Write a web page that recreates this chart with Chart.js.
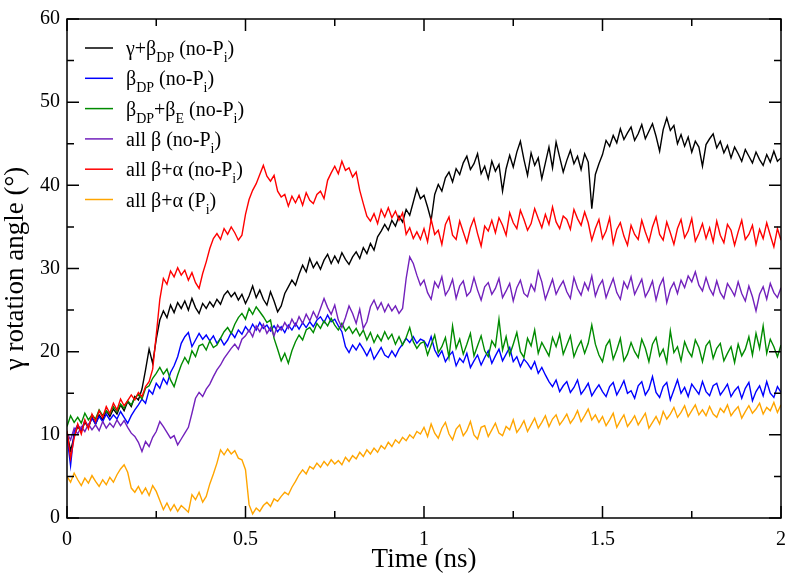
<!DOCTYPE html>
<html>
<head>
<meta charset="utf-8">
<script src="https://cdn.jsdelivr.net/npm/chart.js@4.4.1/dist/chart.umd.min.js"></script>
<style>
html, body { margin: 0; padding: 0; background: #fff; }
#wrap { width: 796px; height: 578px; }
</style>
</head>
<body>
<div id="wrap"><canvas id="myChart"></canvas></div>
<script>
// Time axis (ns), one sample every 0.01 ns
var timeNs = [
  0,0.01,0.02,0.03,0.04,0.05,0.06,0.07,0.08,0.09,0.1,0.11,0.12,0.13,0.14,0.15,0.16,0.17,0.18,0.19,
  0.2,0.21,0.22,0.23,0.24,0.25,0.26,0.27,0.28,0.29,0.3,0.31,0.32,0.33,0.34,0.35,0.36,0.37,0.38,0.39,
  0.4,0.41,0.42,0.43,0.44,0.45,0.46,0.47,0.48,0.49,0.5,0.51,0.52,0.53,0.54,0.55,0.56,0.57,0.58,0.59,
  0.6,0.61,0.62,0.63,0.64,0.65,0.66,0.67,0.68,0.69,0.7,0.71,0.72,0.73,0.74,0.75,0.76,0.77,0.78,0.79,
  0.8,0.81,0.82,0.83,0.84,0.85,0.86,0.87,0.88,0.89,0.9,0.91,0.92,0.93,0.94,0.95,0.96,0.97,0.98,0.99,
  1,1.01,1.02,1.03,1.04,1.05,1.06,1.07,1.08,1.09,1.1,1.11,1.12,1.13,1.14,1.15,1.16,1.17,1.18,1.19,
  1.2,1.21,1.22,1.23,1.24,1.25,1.26,1.27,1.28,1.29,1.3,1.31,1.32,1.33,1.34,1.35,1.36,1.37,1.38,1.39,
  1.4,1.41,1.42,1.43,1.44,1.45,1.46,1.47,1.48,1.49,1.5,1.51,1.52,1.53,1.54,1.55,1.56,1.57,1.58,1.59,
  1.6,1.61,1.62,1.63,1.64,1.65,1.66,1.67,1.68,1.69,1.7,1.71,1.72,1.73,1.74,1.75,1.76,1.77,1.78,1.79,
  1.8,1.81,1.82,1.83,1.84,1.85,1.86,1.87,1.88,1.89,1.9,1.91,1.92,1.93,1.94,1.95,1.96,1.97,1.98,1.99,
  2
];

// γ+βDP (no-Pi)
var gammaBetaDP = [
  10.2,8.1,9.8,11.0,10.4,11.5,10.9,12.1,11.3,12.4,11.8,12.9,12.2,13.1,12.5,13.6,12.9,14.0,13.4,14.6,
  14.2,15.5,17.8,20.3,18.6,21.5,23.8,24.9,24.1,25.6,24.7,25.9,25.2,26.1,25.0,26.4,25.3,24.6,25.8,25.2,
  26.0,25.4,26.3,25.7,26.8,27.3,26.6,27.1,26.2,26.9,25.8,26.7,27.9,26.5,27.4,26.3,25.6,27.2,26.1,24.8,
  25.5,27.0,27.8,28.6,28.0,29.3,30.4,29.6,31.2,30.1,30.8,29.9,31.0,31.7,30.6,31.5,30.7,31.9,31.1,30.5,
  31.4,32.0,31.2,32.5,31.8,33.0,32.2,33.8,34.5,35.3,34.6,35.8,35.1,36.3,35.6,37.1,36.4,38.0,39.6,38.4,
  38.8,37.4,35.8,38.9,40.1,39.3,40.9,41.6,40.4,42.0,41.3,42.7,43.5,41.9,42.6,43.8,41.4,42.3,40.8,42.9,
  41.7,42.5,39.3,42.0,43.6,42.2,44.0,45.3,43.1,41.2,43.9,42.4,43.3,40.8,42.7,44.6,42.1,45.2,43.4,41.6,
  43.0,44.2,42.6,43.5,41.9,43.8,42.8,37.2,41.3,42.6,43.7,45.4,44.7,46.0,45.1,46.8,45.5,46.3,47.0,45.4,
  46.2,47.3,45.6,46.5,47.4,45.9,44.1,46.7,48.1,46.6,47.2,45.0,46.1,44.7,45.8,44.0,45.3,44.6,42.3,44.9,
  45.6,46.2,44.5,45.3,43.9,44.8,43.3,44.6,43.8,42.9,44.3,43.5,42.7,44.0,43.1,42.4,43.7,42.8,44.1,42.9,
  43.3
];

// βDP (no-Pi)
var betaDP = [
  9.8,6.3,10.4,11.2,10.6,11.7,11.0,12.0,11.3,12.2,11.6,12.5,11.8,12.4,11.9,12.8,12.1,11.4,12.3,13.0,
  13.6,14.3,13.8,15.4,14.9,16.2,15.6,16.8,16.1,17.5,18.3,19.4,21.0,21.8,22.3,20.6,21.4,22.2,21.5,22.0,
  21.3,21.9,21.0,21.6,20.8,21.4,22.3,21.7,22.6,22.1,23.0,22.4,23.3,22.6,23.5,22.8,23.2,22.5,23.1,22.4,
  23.0,22.3,23.2,22.6,23.4,22.7,23.5,22.9,23.6,23.0,23.8,24.2,23.5,24.4,23.6,23.9,23.1,22.4,20.6,19.9,
  20.8,20.2,21.0,20.3,19.5,20.4,19.1,19.8,20.5,19.6,19.3,20.1,19.4,20.3,20.9,21.6,21.1,21.8,21.0,21.5,
  21.3,20.6,21.8,20.2,19.4,20.1,18.8,19.5,20.0,18.3,19.2,18.7,19.8,18.1,18.9,19.6,18.4,19.3,20.1,18.6,
  19.5,20.3,18.9,19.7,20.5,18.8,19.4,18.2,19.1,18.6,17.9,18.8,17.4,18.1,17.2,16.4,15.8,16.6,15.2,15.9,
  16.4,15.1,15.7,16.6,14.9,15.5,16.2,14.7,15.4,16.0,15.2,14.6,15.8,16.3,14.8,15.6,16.5,15.0,15.3,14.4,
  15.9,16.4,14.8,15.5,17.0,15.1,14.5,15.8,16.3,14.2,15.4,16.6,15.0,15.7,14.6,16.1,15.5,14.9,16.4,15.2,
  14.7,15.9,16.2,14.8,15.4,16.1,14.6,15.3,15.8,14.4,15.6,16.3,14.1,15.2,15.9,14.7,16.4,15.0,14.5,15.8,
  15.1
];

// βDP+βE (no-Pi)
var betaDPbetaE = [
  11.0,12.3,11.5,12.1,11.4,12.6,11.8,12.4,11.9,13.0,12.3,12.9,12.5,13.4,12.8,13.7,13.2,14.1,13.6,14.4,
  14.9,14.3,15.6,15.9,16.8,17.4,18.1,17.3,17.9,16.6,15.8,17.2,18.4,19.3,18.6,20.1,19.4,20.7,20.9,20.2,
  21.3,20.5,20.8,21.6,22.4,22.9,22.2,23.3,24.1,24.6,23.9,25.2,24.5,25.4,24.8,24.2,23.5,23.8,21.6,20.3,
  18.9,19.8,18.6,20.1,21.2,22.0,21.4,22.6,22.9,22.3,23.4,22.8,23.7,23.1,24.0,23.2,22.6,23.4,22.5,23.0,
  22.2,22.8,21.9,22.6,21.4,22.3,21.1,22.0,21.3,22.4,21.5,22.1,20.9,21.8,20.8,21.7,22.9,21.2,20.4,21.0,
  21.2,19.6,20.8,22.0,19.9,20.6,21.7,19.3,23.1,20.4,21.5,19.7,20.9,22.2,19.5,20.7,21.9,20.1,19.4,21.3,
  20.6,23.9,20.2,21.8,19.6,20.9,22.3,20.0,19.3,21.6,20.7,22.6,19.8,21.1,20.3,19.5,21.7,20.6,22.1,19.7,
  20.8,21.9,19.4,20.5,21.3,19.8,21.0,23.2,20.9,19.6,18.8,20.7,21.4,19.1,20.2,21.6,18.9,19.7,21.1,20.0,
  19.3,21.5,20.4,18.8,20.9,21.7,19.5,20.3,18.7,22.5,19.9,20.6,18.9,21.2,20.1,19.4,21.4,20.5,18.8,20.7,
  21.3,19.2,20.4,21.0,18.9,19.8,20.6,18.7,20.9,19.5,20.3,21.8,19.6,22.2,20.4,23.1,19.8,21.5,20.6,19.4,
  20.8
];

// all β (no-Pi)
var allBeta = [
  10.2,9.4,10.8,10.1,11.0,10.4,11.3,10.6,11.2,10.5,11.6,10.8,11.4,10.9,11.8,11.1,11.7,10.9,10.2,9.8,
  9.1,8.0,9.2,8.6,9.7,10.4,11.6,11.0,10.3,9.6,9.9,8.8,9.5,10.2,10.9,12.6,14.4,15.1,14.6,15.5,
  16.1,17.0,17.8,18.4,19.2,19.8,20.4,20.9,20.3,21.5,21.9,22.6,21.8,23.1,22.4,23.3,22.2,22.9,21.9,23.2,
  22.6,23.5,22.8,23.9,23.1,24.2,23.4,24.5,23.7,24.8,24.0,25.2,26.4,25.3,24.5,25.6,23.8,22.9,24.1,25.5,
  24.6,23.4,25.1,22.8,23.6,25.4,26.2,25.1,25.9,24.8,25.7,24.9,25.5,24.6,25.2,28.8,31.4,30.6,29.2,28.0,
  28.6,27.1,26.3,28.4,27.7,29.0,26.8,27.5,28.7,26.4,27.9,28.5,26.7,27.2,28.9,27.4,26.2,27.8,28.3,26.9,
  27.6,28.8,26.5,27.3,28.2,26.1,27.7,28.6,27.0,26.6,28.1,27.3,29.7,28.4,26.3,27.5,28.7,26.9,27.8,28.5,
  27.2,26.4,28.9,27.6,26.8,28.3,27.4,29.1,26.7,27.9,28.6,26.5,27.7,28.8,27.1,26.3,28.4,27.6,29.0,26.9,
  27.8,28.7,26.6,27.4,28.5,26.2,27.9,28.8,25.9,27.5,28.3,27.0,28.6,27.7,29.1,28.4,29.6,28.0,27.3,28.9,
  27.6,26.8,28.5,27.1,26.4,28.2,27.5,26.7,28.4,27.0,26.1,27.9,26.6,24.9,26.9,27.8,26.3,28.2,27.1,26.5,
  27.7
];

// all β+α (no-Pi)
var allBetaAlpha = [
  10.5,7.2,9.6,11.3,10.1,11.8,10.7,12.5,11.6,12.9,12.1,13.4,12.6,13.8,13.0,14.3,13.5,14.1,14.8,14.2,
  15.1,14.6,15.8,16.4,17.9,22.0,26.3,28.8,28.1,29.7,29.0,30.1,29.2,29.8,28.6,29.5,28.3,27.6,29.4,30.8,
  32.4,33.6,34.2,33.5,34.8,34.1,35.0,34.3,33.4,34.0,36.5,38.3,39.4,40.2,41.3,42.4,41.1,40.5,41.2,39.3,
  38.6,38.9,37.5,38.7,37.9,38.8,37.6,39.1,38.2,37.8,38.9,39.3,38.4,40.6,41.5,42.3,41.4,42.9,41.8,42.1,
  41.0,41.6,39.4,37.8,36.3,35.7,36.6,35.4,37.1,36.2,37.3,36.1,36.9,35.8,36.7,34.1,34.9,33.6,34.4,33.5,
  34.8,33.2,35.9,34.1,34.6,32.9,35.3,36.2,34.0,33.5,35.7,34.4,33.1,34.9,36.0,34.2,32.7,35.1,34.5,35.8,
  34.3,36.1,35.2,34.0,36.7,35.5,34.8,37.0,35.9,34.6,35.4,37.2,36.0,34.9,36.5,35.3,37.4,35.6,34.8,36.3,
  35.9,34.7,37.1,36.0,35.2,36.8,35.5,33.4,34.8,35.9,33.6,34.5,36.1,33.0,34.7,35.5,33.9,32.8,35.2,34.1,
  33.5,35.8,34.4,33.2,35.0,36.2,34.1,33.4,35.6,34.3,32.9,34.8,35.9,33.7,34.5,36.0,33.3,34.2,35.4,33.6,
  34.9,33.2,35.7,34.0,33.1,35.3,34.6,32.8,34.4,35.8,33.5,34.1,35.2,32.9,34.7,33.6,35.5,34.0,32.6,34.8,
  33.4
];

// all β+α (Pi)
var allBetaAlphaPi = [
  5.0,4.3,5.4,4.6,3.9,4.8,4.2,5.1,4.4,3.8,4.6,4.0,4.9,4.3,5.2,5.9,6.4,5.5,3.6,3.1,
  3.8,2.9,3.6,2.7,3.9,3.2,2.1,1.0,1.8,0.9,1.6,0.8,1.5,1.1,0.7,2.8,2.2,3.1,1.9,2.6,
  4.1,5.3,6.6,8.2,7.6,8.3,7.7,8.1,7.2,7.0,5.8,1.6,0.5,1.2,0.8,1.5,1.9,1.4,2.3,2.0,
  2.6,3.1,2.8,3.7,4.4,5.2,5.8,5.3,6.2,5.9,6.6,6.1,6.8,6.3,7.0,6.5,6.9,6.4,7.3,6.8,
  7.5,7.1,7.9,7.4,8.2,7.7,8.4,7.9,8.7,8.3,9.1,8.6,9.4,9.0,9.7,9.3,10.0,9.6,10.4,10.1,
  10.9,9.8,11.3,10.2,9.6,10.8,11.5,10.1,9.4,10.7,11.2,9.9,10.5,11.6,10.0,9.5,10.9,11.1,9.8,10.6,
  11.4,10.2,9.9,11.0,10.6,11.8,10.3,10.9,11.7,10.4,11.2,12.0,10.8,11.5,12.3,11.0,11.9,12.4,11.2,11.8,
  12.5,11.4,12.0,12.9,11.6,12.3,13.1,11.8,12.4,11.5,12.2,11.1,11.8,12.6,10.9,11.7,12.4,11.0,11.6,12.3,
  11.2,11.9,12.6,10.8,11.5,12.2,11.3,12.8,11.9,12.5,13.3,12.1,12.7,13.5,12.2,12.9,13.6,12.4,13.0,12.3,
  13.4,12.5,12.1,13.2,12.7,13.6,12.3,12.9,13.4,12.0,12.8,13.5,12.6,13.1,13.8,12.5,13.3,12.9,13.9,12.7,
  13.6
];

// legend texts, "_" marks a subscript piece
var legendParts = [
  ['γ+β', '_DP', ' (no-P', '_i', ')'],
  ['β', '_DP', ' (no-P', '_i', ')'],
  ['β', '_DP', '+β', '_E', ' (no-P', '_i', ')'],
  ['all β (no-P', '_i', ')'],
  ['all β+α (no-P', '_i', ')'],
  ['all β+α (P', '_i', ')']
];
var seriesData = [gammaBetaDP, betaDP, betaDPbetaE, allBeta, allBetaAlpha, allBetaAlphaPi];
var seriesColors = ['#000000', '#0000ff', '#008b00', '#7221bc', '#ff0000', '#ffa500'];

var xTicks = [0, 0.5, 1, 1.5, 2];
var xMinorTicks = [0.25, 0.75, 1.25, 1.75];
var yTicks = [0, 10, 20, 30, 40, 50, 60];
var yMinorTicks = [5, 15, 25, 35, 45, 55];

var serif = '"Liberation Serif", "Times New Roman", serif';

// frame with inward ticks and legend with subscripts
var framePlugin = {
  id: 'framePlugin',
  afterDraw: function(chart) {
    var ctx = chart.ctx;
    var a = chart.chartArea;
    var xs = chart.scales.x, ys = chart.scales.y;
    ctx.save();
    ctx.strokeStyle = '#000';
    ctx.lineWidth = 1.5;
    ctx.strokeRect(a.left, a.top, a.right - a.left, a.bottom - a.top);
    ctx.beginPath();
    xTicks.concat(xMinorTicks).forEach(function(v) {
      var len = xTicks.indexOf(v) >= 0 ? 12 : 7;
      var px = xs.getPixelForValue(v);
      ctx.moveTo(px, a.bottom); ctx.lineTo(px, a.bottom - len);
      ctx.moveTo(px, a.top); ctx.lineTo(px, a.top + len);
    });
    yTicks.concat(yMinorTicks).forEach(function(v) {
      var len = yTicks.indexOf(v) >= 0 ? 12 : 7;
      var py = ys.getPixelForValue(v);
      ctx.moveTo(a.left, py); ctx.lineTo(a.left + len, py);
      ctx.moveTo(a.right, py); ctx.lineTo(a.right - len, py);
    });
    ctx.stroke();

    // legend
    ctx.fillStyle = '#000';
    ctx.textBaseline = 'alphabetic';
    ctx.textAlign = 'left';
    legendParts.forEach(function(parts, i) {
      var y = a.top + 29 + i * 30.3;
      ctx.strokeStyle = seriesColors[i];
      ctx.lineWidth = 1.5;
      ctx.beginPath();
      ctx.moveTo(a.left + 18, y);
      ctx.lineTo(a.left + 46, y);
      ctx.stroke();
      var x = a.left + 59;
      parts.forEach(function(p) {
        var sub = p.charAt(0) === '_';
        var t = sub ? p.slice(1) : p;
        ctx.font = (sub ? '14px ' : '20px ') + serif;
        ctx.fillText(t, x, sub ? y + 14 : y + 7);
        x += ctx.measureText(t).width;
      });
    });
    ctx.restore();
  }
};

var ctx = document.getElementById('myChart').getContext('2d');
var myChart = new Chart(ctx, {
  type: 'line',
  data: {
    labels: timeNs,
    datasets: seriesData.map(function(d, i) {
      return {
        label: legendParts[i].join('').replace(/_/g, ''),
        data: d,
        borderColor: seriesColors[i],
        borderWidth: 1.4,
        pointRadius: 0,
        tension: 0,
        order: 6 - i
      };
    })
  },
  plugins: [framePlugin],
  options: {
    responsive: true,
    maintainAspectRatio: false,
    animation: false,
    events: [],
    layout: { padding: { top: 17, right: 7, left: 0, bottom: 0 } },
    plugins: { legend: { display: false }, tooltip: { enabled: false } },
    scales: {
      x: {
        type: 'linear',
        min: 0,
        max: 2,
        afterFit: function(s) { s.height = 60; },
        afterBuildTicks: function(s) { s.ticks = xTicks.map(function(v) { return { value: v }; }); },
        grid: { display: false, drawTicks: false },
        border: { display: false },
        ticks: {
          color: '#000', font: { family: serif, size: 20 }, padding: 10, maxRotation: 0,
          callback: function(v) { return String(v); }
        },
        title: { display: true, text: 'Time (ns)', color: '#000', font: { family: serif, size: 27 }, padding: { top: 0, bottom: 2 } }
      },
      y: {
        min: 0,
        max: 60,
        afterFit: function(s) { s.width = 67; },
        afterBuildTicks: function(s) { s.ticks = yTicks.map(function(v) { return { value: v }; }); },
        grid: { display: false, drawTicks: false },
        border: { display: false },
        ticks: {
          color: '#000', font: { family: serif, size: 20 }, padding: 7,
          callback: function(v) { return String(v); }
        },
        title: { display: true, text: 'γ rotation angle (°)', color: '#000', font: { family: serif, size: 27 }, padding: { top: 0, bottom: 0 } }
      }
    }
  }
});
</script>
</body>
</html>
